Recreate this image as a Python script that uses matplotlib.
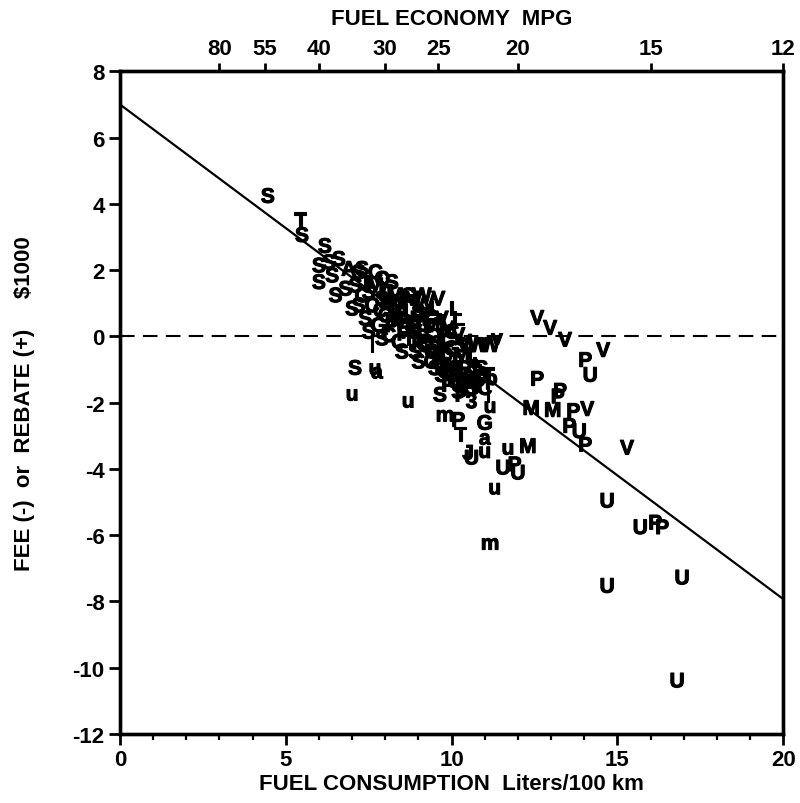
import numpy as np
import matplotlib
matplotlib.use("Agg")
import matplotlib.pyplot as plt
import matplotlib.patheffects as pe

plt.rcParams['font.family'] = ['Liberation Sans', 'DejaVu Sans']
plt.rcParams['font.weight'] = 'bold'
plt.rcParams['axes.labelweight'] = 'bold'

# fuel consumption (L/100 km), fee/rebate ($1000), car class letter
cars_x = [4.46, 5.43, 5.49, 6.18,
          6.0, 6.3, 6.6, 6.0, 6.4, 6.5, 6.8, 7.0, 6.9, 7.2, 7.9,
          7.1, 7.3, 7.2, 7.4, 7.5, 7.4, 7.6, 7.5, 7.7,
          7.8, 7.9, 8.0, 8.0, 8.1, 8.2, 7.9, 8.2, 8.3,
          8.4, 8.5, 8.4, 8.6, 8.7, 8.5, 8.8, 8.7,
          8.9, 9.0, 8.9, 9.1, 9.2, 9.0, 9.2, 9.3, 9.1,
          9.4, 9.5, 9.4, 9.6, 9.5, 9.7, 9.6, 9.7, 9.6,
          9.9, 9.8, 10.0, 10.1, 10.0, 10.2, 10.1, 10.2, 9.9,
          10.4, 10.3, 10.5, 10.4, 10.6, 10.5, 10.3, 10.7, 10.6,
          10.8, 11.16, 11.37, 10.8, 10.9, 11.0, 11.1, 11.2, 10.65,
          9.7, 9.9, 10.1, 10.3, 10.5, 10.2, 10.8, 9.8, 10.0,
          8.0, 8.3, 8.6, 8.9, 9.2, 9.5, 9.8, 10.1, 10.4, 10.7, 10.9,
          9.0, 9.3, 9.8, 10.0, 10.3, 8.2, 7.7, 7.3, 9.0, 9.4, 9.7, 10.3, 10.6,
          8.1, 8.4, 8.7, 9.0, 9.35, 8.55, 8.85, 9.15, 7.85, 8.25, 9.55, 9.9,
          7.09, 7.69, 7.75, 7.0, 8.69, 7.6,
          9.65, 9.8, 10.2, 10.26, 11.0, 11.16, 11.1, 10.5, 11.0, 11.0, 10.6,
          11.7, 12.3, 11.55, 11.9, 12.0, 11.3, 11.16,
          12.58, 12.97, 13.42, 14.57, 14.03, 14.18, 12.58, 13.27, 13.2,
          12.4, 13.05, 13.67, 14.09, 13.55, 13.85, 14.03, 15.29,
          14.69, 15.69, 16.14, 16.35, 14.69, 16.95, 16.8]
cars_y = [4.2, 3.48, 3.02, 2.69,
          2.1, 2.2, 2.3, 1.6, 1.8, 1.2, 1.4, 0.8, 2.0, 1.9, 1.7,
          1.5, 1.2, 0.9, 1.6, 1.3, 0.5, 0.9, 0.1, 1.5,
          0.3, 1.1, 0.6, 1.4, 0.0, 0.9, -0.1, 0.3, 1.2,
          0.5, 1.0, -0.2, 0.2, 0.7, -0.5, 1.1, -0.1,
          0.4, 0.9, -0.5, 0.0, 0.6, -0.8, -0.3, 1.0, 1.2,
          0.3, 0.8, -0.5, 0.0, -1.0, 0.5, -0.7, -0.3, 1.1,
          0.2, -0.9, -0.4, 0.8, -1.2, 0.0, -0.8, 0.5, -1.3,
          -0.2, -0.6, -0.3, -1.0, -0.6, -1.3, -1.5, -1.1, -1.6,
          -0.3, -0.3, -0.08, -0.9, -1.3, -1.6, -1.2, -1.3, -0.63,
          -1.2, -1.5, -1.4, -1.2, -1.4, -1.7, -1.5, -1.1, -1.0,
          1.0, 0.7, 0.4, 0.1, -0.2, -0.4, -0.6, -1.0, -1.2, -1.4, -1.0,
          0.5, 0.3, 0.4, 0.1, -0.3, 1.6, 1.9, 2.0, -0.2, -0.8, -1.2, -1.8, -2.0,
          1.3, 0.85, 1.2, 0.7, 0.55, 0.05, 0.25, -0.05, 0.75, 0.45, -0.25, -0.15,
          -0.99, -0.99, -1.1, -1.77, -1.98, -0.3,
          -1.8, -2.4, -2.56, -3.0, -2.65, -2.14, -1.83, -3.55, -3.5, -3.1, -3.7,
          -3.4, -3.35, -4.0, -3.9, -4.15, -4.6, -6.27,
          0.52, 0.22, -0.14, -0.45, -0.75, -1.2, -1.32, -1.68, -1.85,
          -2.2, -2.26, -2.29, -2.23, -2.74, -2.9, -3.31, -3.4,
          -5.0, -5.8, -5.66, -5.8, -7.57, -7.32, -10.43]
cars_lbl = ['S', 'T', 'S', 'S',
            'S', 'S', 'S', 'S', 'S', 'S', 'S', 'S', 'A', 'S', 'C',
            'S', 'C', 'S', 'T', 'S', 'S', 'C', 'S', 'M',
            'G', 'S', 'C', 'L', 'C', 'T', 'S', 'P', 'M',
            'S', 'V', 'C', 'G', 'L', 'S', 'M', 'T',
            'C', 'V', 'S', 'L', 'P', 'S', 'G', 'V', 'W',
            'M', 'L', 'C', 'T', 'S', 'V', 'P', 'L', 'V',
            'M', 'S', 'G', 'L', 'C', 'V', 'T', 'L', 'P',
            'V', 'M', 'W', 'P', 'L', 'C', 'S', 'T', 'G',
            'W', 'W', 'v', 'L', 'P', 'C', 'T', 'p', 'L',
            'S', 'P', 'C', 'G', 'T', 'S', 'P', 'C', 'M',
            'S', 'C', 'P', 'S', 'C', 'S', 'C', 'S', 'G', 'P', 'S',
            'M', 'T', 'L', 'C', 'S', 'S', 'C', 'S', 'P', 'G', 'S', 'P', '3',
            'C', 'M', 'G', 'S', 'C', 'P', 'G', 'S', 'C', 'M', 'G', 'C',
            'S', 'u', 'a', 'u', 'u', 'l',
            'S', 'm', 'P', 'T', 'G', 'u', 'l', 'J', 'u', 'a', 'U',
            'u', 'M', 'U', 'P', 'U', 'u', 'm',
            'V', 'V', 'V', 'V', 'P', 'U', 'P', 'P', 'P',
            'M', 'M', 'P', 'V', 'P', 'U', 'P', 'V',
            'U', 'U', 'P', 'P', 'U', 'U', 'U']

# regression line end points
fit_x = [0, 20]
fit_y = [7.0, -7.93]

mpg_ticks = [80, 55, 40, 30, 25, 20, 15, 12]

fig = plt.figure(figsize=(8.0, 8.04), dpi=100)
ax = fig.add_axes([0.15, 0.086, 0.829, 0.824])

ax.plot(fit_x, fit_y, color='black', lw=1.6)
ax.axhline(0, color='black', lw=1.5, ls=(0, (7, 4)))

for x, y, s in zip(cars_x, cars_y, cars_lbl):
    ax.text(x, y, s, ha='center', va='center', fontsize=15,
            fontweight='bold', color='black',
            path_effects=[pe.withStroke(linewidth=0.8, foreground='black')])

ax.set_xlim(0, 20)
ax.set_ylim(-12, 8)
ax.set_xticks([0, 5, 10, 15, 20])
ax.set_xticks(np.arange(0, 21, 1), minor=True)
ax.set_yticks(np.arange(-12, 9, 2))
ax.set_yticklabels([str(v) for v in range(-12, 9, 2)])
ax.tick_params(axis='both', which='major', direction='out', length=8,
               width=2, labelsize=16, pad=3)
ax.tick_params(axis='x', which='minor', direction='out', length=4, width=1.6)
for sp in ax.spines.values():
    sp.set_linewidth(2.4)

ax.set_xlabel('FUEL CONSUMPTION  Liters/100 km', fontsize=16, labelpad=2)
ax.set_ylabel('FEE (-)  or  REBATE (+)     $1000', fontsize=16, labelpad=27)

top = ax.twiny()
top.set_xlim(0, 20)
top.set_xticks([240.0 / m for m in mpg_ticks])
top.set_xticklabels([str(m) for m in mpg_ticks])
top.tick_params(axis='x', direction='out', length=6, width=2, labelsize=16, pad=3)
top.set_xlabel('FUEL ECONOMY  MPG', fontsize=16, labelpad=10)
for sp in top.spines.values():
    sp.set_linewidth(2.4)

fig.savefig('out.png', dpi=100)
